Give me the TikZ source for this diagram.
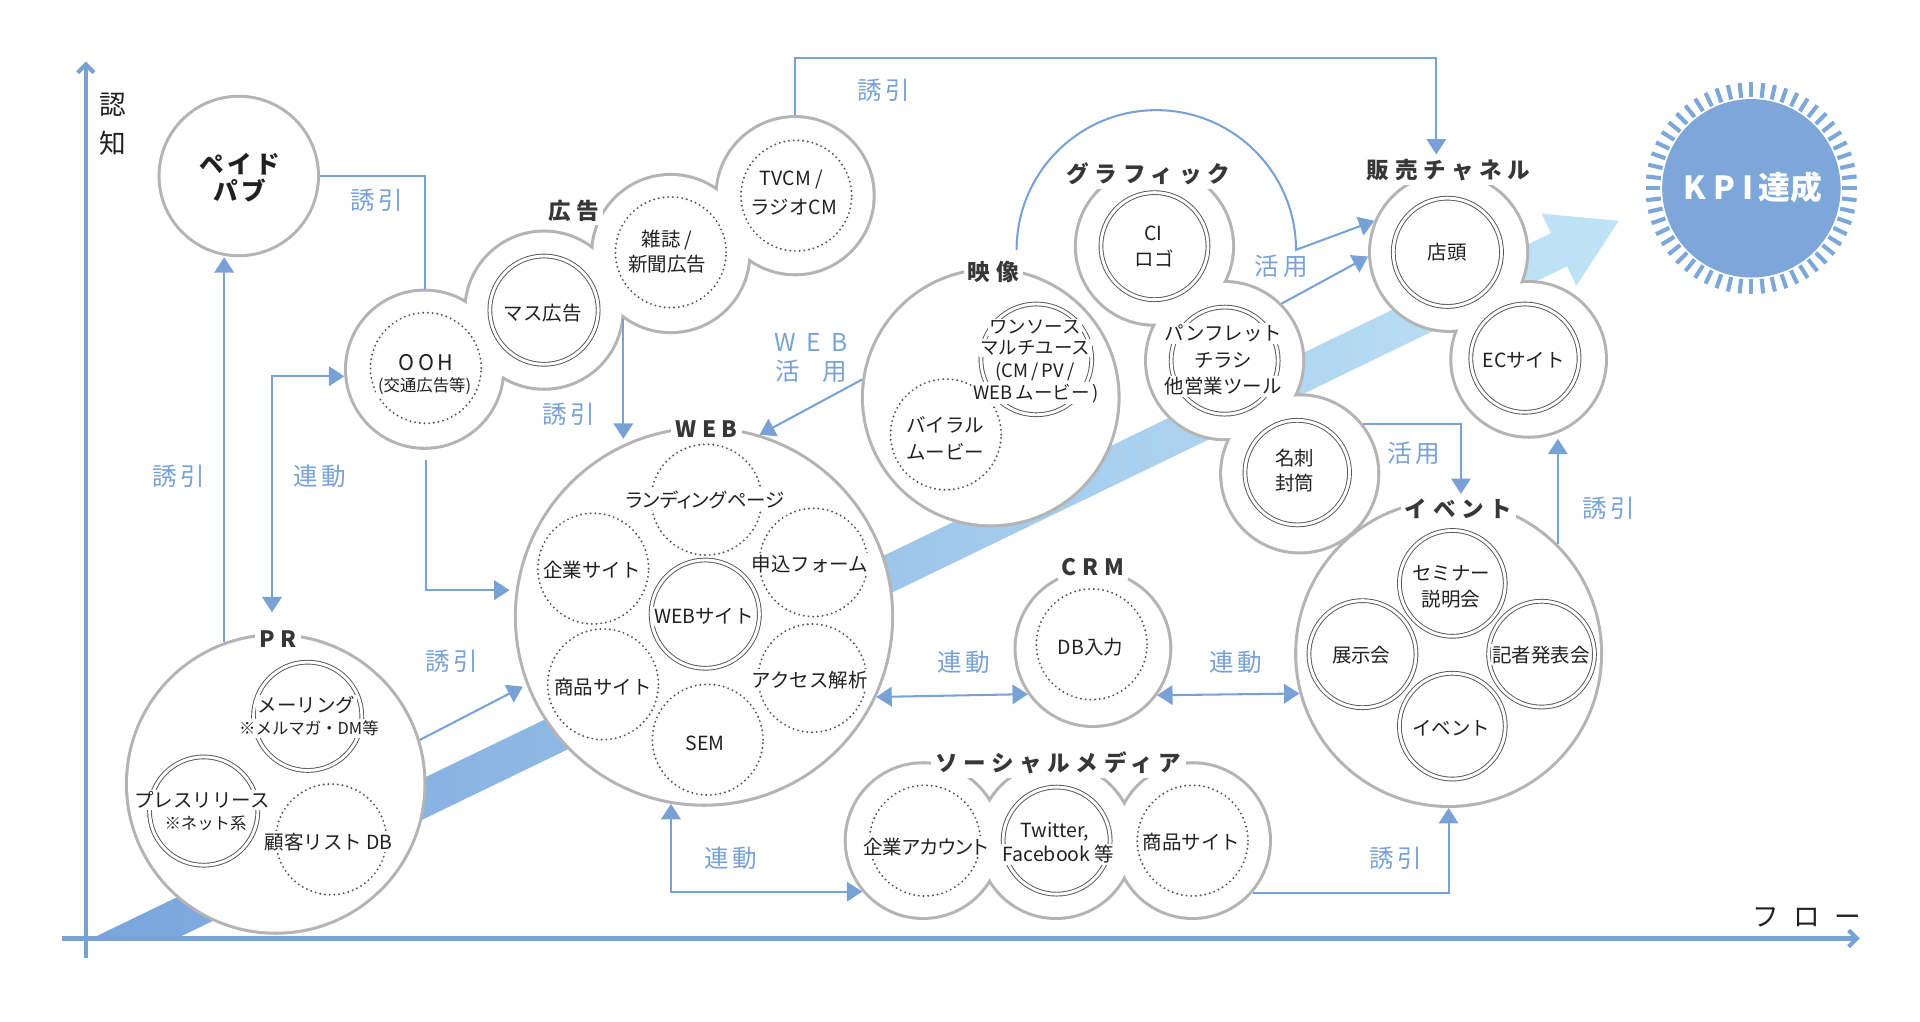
\documentclass[tikz,border=0pt]{standalone}
\usepackage{fontspec}
\setmainfont{Noto Sans CJK JP}
\newfontfamily\grpf{Noto Sans CJK JP}[LetterSpace=25]
\newfontfamily\spf{Noto Sans CJK JP}[LetterSpace=15]
\newfontfamily\paltf{Noto Sans CJK JP}[RawFeature=+palt]
\usetikzlibrary{arrows.meta,calc}
\definecolor{ablue}{RGB}{120,162,214}
\definecolor{ogray}{RGB}{180,180,180}
\definecolor{igray}{RGB}{85,85,85}
\definecolor{tdark}{RGB}{35,32,32}
\definecolor{kblue}{RGB}{124,167,216}
\definecolor{bandL}{RGB}{115,160,218}
\definecolor{bandR}{RGB}{192,228,246}
\tikzset{
  outer/.style={circle, draw=ogray, line width=3pt, minimum size=#1*1.2pt, inner sep=0pt},
  dotc/.style={circle, draw=igray, line width=1.05pt, dash pattern=on 0pt off 2.3pt, line cap=round, minimum size=#1*1.2pt, inner sep=0pt},
  dblc/.style={circle, draw=igray, line width=0.45pt, double=white, double distance=1.4pt, minimum size=#1*1.2pt, inner sep=0pt},
  tx/.style={text=tdark, font=\fontsize{9.5}{11}\selectfont, inner sep=0.8pt, fill=white},
  txs/.style={tx, font=\fontsize{8}{9}\selectfont},
  txm/.style={tx, font=\fontsize{9}{10}\selectfont},
  grp/.style={text=tdark!90, font=\grpf\bfseries\fontsize{11}{13}\selectfont, fill=white, inner sep=2pt},
  bl/.style={text=ablue, font=\spf\fontsize{12}{14}\selectfont, inner sep=1pt},
  conn/.style={draw=ablue, line width=1pt},
  atip/.style={-{Triangle[length=7.5pt,width=9.5pt]}},
  atips/.style={{Triangle[length=7.5pt,width=9.5pt]}-{Triangle[length=7.5pt,width=9.5pt]}},
  axis/.style={draw=ablue, line width=2pt, -{Straight Barb[length=4pt,width=8pt]}},
}
\begin{document}
\begin{tikzpicture}[x=0.6pt, y=-0.6pt]
\useasboundingbox (0,0) rectangle (1560,830);
% diagonal band arrow
\begin{scope}
\clip (70,0) rectangle (1560,762.5);
\shade[left color=bandL, right color=bandR] (-19.2,807.8) -- (1260.2,189.4) -- (1252.6,173.6) -- (1315.3,179.4) -- (1280.8,232.1) -- (1273.2,216.4) -- (-6.1,834.8) -- cycle;
\end{scope}
% axes
\coordinate (yA0) at (69.7,778); \coordinate (yA1) at (69.7,50);
\coordinate (xA0) at (50,762.5); \coordinate (xA1) at (1511,762.5);
\draw[axis] (yA0) -- (yA1);
\draw[axis] (xA0) -- (xA1);
\node[font=\fontsize{13}{19}\selectfont, text=tdark, align=center] (axY) at (92,101) {認\\知};
\node[font=\fontsize{13}{15}\selectfont, text=tdark] (axX) at (1468,745) {フ\hspace{7pt}ロ\hspace{7pt}ー};
% outer circles (union outlines)
\foreach \n/\x/\y/\r in {pay/194/143/63.5, ooh/345/300/63, mas/442/252/63, zas/545/206/63, tv/646/159/63,
  web/572/501/152, pr/224/637/120, eizo/805/323/103, ci/938/200/63, pan/995/293/63, mei/1056/385/63,
  ten/1177/205/63, ec/1242/292/62, crm/888/527/62, ev/1177/531/123, s1/750/683/62, s2/858/683/62, s3/969/683/62}
  \node[outer=\r] (\n) at (\x,\y) {};
\foreach \n/\r in {pay/63.5, ooh/63, mas/63, zas/63, tv/63, web/152, pr/120, eizo/103, ci/63, pan/63, mei/63,
  ten/63, ec/62, crm/62, ev/123, s1/62, s2/62, s3/62}
  \fill[white] (\n.center) circle[radius=\r*0.6pt];
% dotted inner circles
\foreach \n/\x/\y/\r in {oohI/346/299/45, zasI/545/205/45, tvI/647/159/45, lpI/574/406/45, kgI/482/462/45,
  moI/661/457/44, shI/490/556/45, acI/660/551/44, semI/575/601/45, dbI/269/682/45, biI/768.5/353/45,
  crmI/887/523.5/45, s1I/751.5/683/45, s3I/969/683/45}
  \node[dotc=\r] (\n) at (\x,\y) {};
% double inner circles
\foreach \n/\x/\y/\r in {masI/442/252/44, wsI/573/499/44, mlI/250/582/44, psI/165.5/659/44, onI/842/292/45,
  ciI/938/200/43.5, panI/995/293/43.5, meiI/1054/384/42.5, tenI/1176/205/44, ecI/1239/291/44,
  seI/1180/474/43, tjI/1107/531.5/43.5, ksI/1252.5/531.5/43, evI/1180/590/43, s2I/858.5/683/43.5}
  \node[dblc=\r] (\n) at (\x,\y) {};
% KPI
\node[circle, fill=kblue, minimum size=72.5*1.2pt, inner sep=0pt] (kpi) at (1423,153) {};
\foreach \i in {0,...,55}
  \draw[kblue, line width=2pt] ($(kpi.center)+({\i*6.42857}:44.4pt)$) -- ($(kpi.center)+({\i*6.42857}:51.6pt)$);
\node[text=white, font=\bfseries\fontsize{15.5}{17}\selectfont] (kpiT) at (1424,152) {K\hspace{3.5pt}P\hspace{3.5pt}I\hspace{2.5pt}達成};
% group labels
\node[grp] (kokokuL) at (466,171) {広告};
\node[grp] (webL) at (574,349) {WEB};
\node[grp] (prL) at (226,519) {PR};
\node[grp] (eizoL) at (807,221) {映像};
\node[grp] (graL) at (933,141) {グラフィック};
\node[grp] (hanL) at (1177,138) {販売チャネル};
\node[grp] (crmL) at (888,461) {CRM};
\node[grp] (evL) at (1185,413) {イベント};
\node[grp] (socL) at (860,620) {ソーシャルメディア};
% texts
\node[tx, font=\spf\bfseries\fontsize{12}{14}\selectfont] (payT1) at (195,133.5) {ペイド};
\node[tx, font=\spf\bfseries\fontsize{12}{14}\selectfont] (payT2) at (195,155) {パブ};
\node[tx, font=\spf\fontsize{10.5}{12}\selectfont] (oohT1) at (346,295) {OOH};
\node[txs] (oohT2) at (345,314) {(交通広告等)};
\node[tx] (masT) at (441,254.6) {マス広告};
\node[tx] (zasT1) at (542,195) {雑誌 /};
\node[tx] (zasT2) at (542,215) {新聞広告};
\node[tx] (tvT1) at (643,146) {TVCM /};
\node[tx] (tvT2) at (645,168) {ラジオCM};
\node[tx, font=\paltf\fontsize{9.5}{11}\selectfont] (lpT) at (573,406) {ランディングページ};
\node[tx] (kgT) at (481,463) {企業サイト};
\node[tx] (moT) at (658,458) {申込フォーム};
\node[tx] (wsT) at (572,501) {WEBサイト};
\node[tx] (shT) at (490,558) {商品サイト};
\node[tx] (acT) at (658,552.5) {アクセス解析};
\node[tx] (semT) at (573,604) {SEM};
\node[tx] (mlT1) at (249,573) {メーリング};
\node[txs] (mlT2) at (251,592) {※メルマガ・DM等};
\node[tx] (psT1) at (164,650) {プレスリリース};
\node[txs] (psT2) at (167,669) {※ネット系};
\node[tx] (dbT) at (267,684) {顧客リスト\hspace{2pt}DB};
\node[txm] (onT1) at (841,266) {ワンソース};
\node[txm] (onT2) at (841,283) {マルチユース};
\node[txm] (onT3) at (841,302) {(CM\,/\,PV\,/};
\node[txm] (onT4) at (842,319.5) {WEB\,ムービー\,)};
\node[tx] (biT1) at (768,345.3) {バイラル};
\node[tx] (biT2) at (768,367) {ムービー};
\node[tx] (ciT1) at (937,189.6) {CI};
\node[tx] (ciT2) at (938,210) {ロゴ};
\node[tx] (panT1) at (994,271) {パンフレット};
\node[tx] (panT2) at (994,292.5) {チラシ};
\node[tx] (panT3) at (994,314) {他営業ツール};
\node[tx] (meiT1) at (1052,372.4) {名刺};
\node[tx] (meiT2) at (1052,392.7) {封筒};
\node[tx] (tenT) at (1176,204.5) {店頭};
\node[tx] (ecT) at (1238,292.5) {ECサイト};
\node[tx] (crmT) at (886,525.5) {DB入力};
\node[tx] (seT1) at (1179,466) {セミナー};
\node[tx] (seT2) at (1179,487) {説明会};
\node[tx] (tjT) at (1106,532) {展示会};
\node[tx] (ksT) at (1252,532) {記者発表会};
\node[tx] (evT) at (1179,592) {イベント};
\node[tx, font=\paltf\fontsize{9.5}{11}\selectfont] (s1T) at (752,688) {企業アカウント};
\node[tx] (s2T1) at (857,676) {Twitter,};
\node[tx] (s2T2) at (860,694) {Facebook 等};
\node[tx] (s3T) at (968,684) {商品サイト};
% blue labels
\node[bl] (l1) at (306,163) {誘引};
\node[bl] (l2) at (145,387) {誘引};
\node[bl] (l3) at (260,387) {連動};
\node[bl] (l4) at (462,337) {誘引};
\node[bl] (l5) at (718,73) {誘引};
\node[bl, align=center, font=\fontsize{12}{14.4}\selectfont] (l6) at (659,291) {W\hspace{5pt}E\hspace{5pt}B\\活\hspace{11pt}用};
\node[bl] (l7) at (367,537) {誘引};
\node[bl] (l8) at (594,697) {連動};
\node[bl] (l9) at (783,538) {連動};
\node[bl] (l10) at (1004,538) {連動};
\node[bl] (l11) at (1134,697) {誘引};
\node[bl] (l12) at (1041,216) {活用};
\node[bl] (l13) at (1149,368) {活用};
\node[bl] (l14) at (1307,413) {誘引};
% connectors
\draw[conn] (pay.east) -| (ooh.north);
\draw[conn, atip] (pr.110.5) -- (pr.110.5 |- pay.south);
\draw[conn, atips] ($(pr.north)+(-3,-17)$) |- (ooh.185);
\draw[conn, atip, shorten >=3pt] ($(ooh.south)+(1,8)$) |- (web.172);
\draw[conn, atip, shorten >=2pt] (zas.234.6) -- (zas.234.6 |- web.114.7);
\draw[conn, atip] (tv.north) -- ++(0,-46) -| ([xshift=-6pt]hanL.north);
\coordinate (arcS) at (826,203);
\draw[conn, atip] (arcS) arc[start angle=180, end angle=0, radius=68.1pt] -- (ten.157.6);
\draw[conn, atip] (pan.45.3) -- (ten.183);
\draw[conn, atip] (mei.38.5) -| ([xshift=1.2pt]evL.north);
\draw[conn, atip] (ev.45) -- (ev.45 |- ec.south);
\draw[conn, atip] (s3.319.6) -| (ev.south);
\draw[conn, atips] (web.260.2) |- (s1.220);
\draw[conn, atips] (web.335.93) -- (crm.215.5);
\draw[conn, atips] (crm.324.5) -- (ev.195.08);
\draw[conn, atip, shorten >=2pt] (pr.17.5) -- (web.201.2);
\draw[conn, atip] (eizo.172.1) -- (web.73.3);
\end{tikzpicture}
\end{document}
